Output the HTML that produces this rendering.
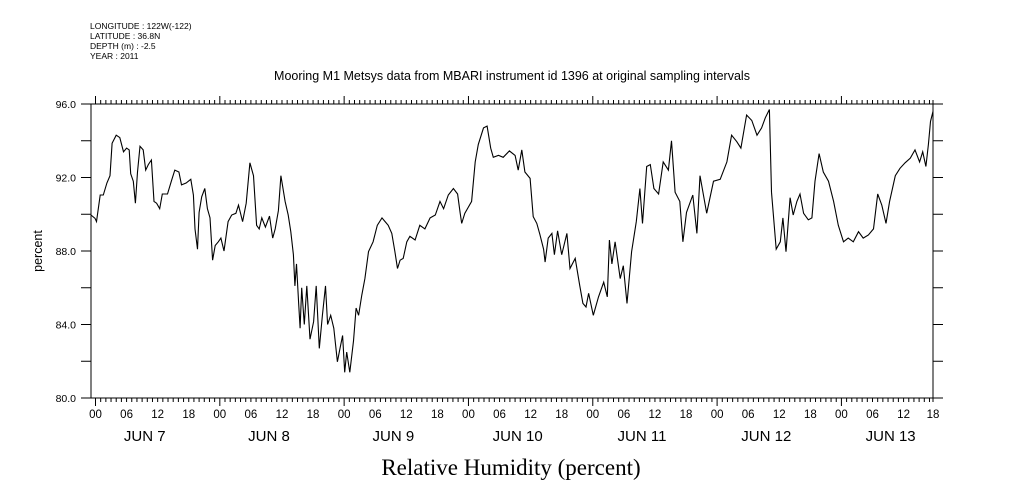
<!DOCTYPE html>
<html><head><meta charset="utf-8"><style>
body{margin:0;background:#fff;}
svg{display:block;font-family:"Liberation Sans",sans-serif;}
</style></head><body>
<svg id="chart" width="1009" height="504" viewBox="0 0 1009 504">
<g font-size="8.5" fill="#000">
<text x="90" y="29">LONGITUDE : 122W(-122)</text>
<text x="90" y="39">LATITUDE : 36.8N</text>
<text x="90" y="49">DEPTH (m) : -2.5</text>
<text x="90" y="59">YEAR : 2011</text>
</g>
<text x="512" y="80" text-anchor="middle" font-size="12.5">Mooring M1 Metsys data from MBARI instrument id 1396 at original sampling intervals</text>
<text transform="translate(42,251) rotate(-90)" text-anchor="middle" font-size="12.5">percent</text>
<text x="511" y="475" text-anchor="middle" font-size="23" font-family="Liberation Serif, serif">Relative Humidity (percent)</text>
<g id="axes"></g>
<g id="plot"></g>
</svg>
<script>
const hours=[-0.9,-0.1,0.2,0.9,1.5,2.2,2.8,3.2,4.0,4.7,5.4,6.0,6.5,6.8,7.3,7.7,8.1,8.6,9.2,9.7,10.2,10.8,11.3,11.8,12.4,12.9,13.9,14.7,15.3,16.1,16.6,17.5,18.4,18.9,19.2,19.7,20.0,20.5,21.1,21.6,22.1,22.6,23.1,23.7,24.2,24.8,25.6,26.3,27.1,27.6,28.4,29.1,29.8,30.5,31.1,31.6,32.1,32.8,33.6,34.2,34.7,35.3,35.8,36.6,37.2,37.7,38.2,38.5,38.8,39.2,39.5,39.8,40.3,40.8,41.4,42.1,42.6,43.2,43.8,44.4,44.8,45.4,46.0,46.7,47.2,47.7,48.1,48.5,49.1,49.8,50.3,50.8,51.4,52.0,52.7,53.6,54.4,55.3,55.9,56.5,57.2,57.8,58.3,58.8,59.4,60.1,60.7,61.7,62.6,63.6,64.6,65.6,66.5,67.2,68.1,69.1,69.9,70.4,70.7,71.3,72.0,72.6,73.3,73.9,74.9,75.6,76.3,76.8,77.8,78.7,79.9,81.0,81.6,82.3,82.9,83.9,84.5,85.2,85.8,86.5,86.8,87.4,88.1,88.6,89.2,90.0,91.0,91.6,92.6,93.5,94.1,94.7,95.2,96.1,97.1,98.1,98.8,99.2,99.7,100.3,101.3,101.9,102.6,103.5,104.4,105.1,105.6,106.4,107.1,107.8,108.7,109.6,110.6,111.2,111.9,112.8,113.4,114.1,115.3,116.1,116.7,118.0,119.3,120.6,121.9,122.8,123.8,124.6,125.7,126.7,127.7,128.6,129.3,130.1,130.5,131.4,132.2,132.7,133.3,134.1,134.7,135.4,136.0,136.7,137.6,138.3,138.9,139.7,140.5,141.5,142.5,143.4,144.4,145.3,146.3,147.3,148.2,149.2,150.2,151.0,151.8,152.6,153.3,154.4,155.3,156.3,157.3,158.2,159.1,159.7,160.3,160.8,161.2,161.7];
const humidity=[89.96,89.78,89.6,91.05,91.05,91.7,92.1,93.86,94.3,94.17,93.4,93.6,93.5,92.2,91.8,90.6,92.3,93.7,93.5,92.4,92.7,92.95,90.7,90.6,90.3,91.1,91.1,91.85,92.4,92.3,91.6,91.7,91.9,91.05,89.2,88.1,90.1,90.95,91.4,90.3,89.8,87.5,88.3,88.5,88.7,88.0,89.6,89.96,90.05,90.5,89.6,90.6,92.8,92.1,89.4,89.2,89.8,89.3,89.9,88.7,89.2,90.2,92.1,90.7,89.96,89.05,87.8,86.1,87.3,85.2,83.8,86.0,84.0,86.1,83.2,84.15,86.1,82.7,84.5,86.1,84.0,84.5,83.8,81.97,82.7,83.4,81.4,82.5,81.4,83.1,84.9,84.5,85.6,86.5,87.96,88.5,89.4,89.8,89.6,89.4,88.96,87.96,87.05,87.5,87.6,88.5,88.8,88.6,89.4,89.2,89.8,89.96,90.7,90.3,91.05,91.4,91.1,90.05,89.5,90.05,90.4,90.7,92.85,93.8,94.7,94.8,93.6,93.1,93.2,93.1,93.45,93.2,92.4,93.5,92.3,91.95,89.87,89.5,88.9,88.1,87.4,88.7,88.96,87.8,89.1,87.8,88.96,87.05,87.6,86.1,85.15,84.95,85.7,84.5,85.5,86.3,85.5,88.6,87.3,88.5,86.5,87.2,85.15,87.96,89.6,91.4,89.5,92.6,92.7,91.4,91.1,92.85,92.4,94.0,91.2,90.7,88.5,90.1,91.05,88.96,92.1,90.05,91.8,91.9,92.85,94.3,93.95,93.6,95.4,95.1,94.3,94.7,95.25,95.7,91.2,88.1,88.5,89.8,87.96,90.9,89.96,90.7,91.1,90.05,89.7,89.8,91.8,93.3,92.3,91.8,90.7,89.4,88.5,88.7,88.5,89.05,88.7,88.87,89.2,91.1,90.5,89.5,90.7,92.1,92.5,92.8,93.05,93.5,92.85,93.4,92.6,93.8,95.05,95.6];
const yTicks=[80,84,88,92,96];
const hourLabels=["00","06","12","18"];
const dayLabels=["JUN  7","JUN  8","JUN  9","JUN 10","JUN 11","JUN 12","JUN 13"];

const L=91,R=933,T=104,B=398,X0=95.5,PXH=5.18,YMIN=80,YMAX=96;
const xs=h=>X0+h*PXH;
const ys=v=>B-(v-YMIN)/(YMAX-YMIN)*(B-T);
const NS="http://www.w3.org/2000/svg";
const axes=document.getElementById('axes'),plot=document.getElementById('plot');
function mk(tag,attrs,parent){const e=document.createElementNS(NS,tag);for(const k in attrs)e.setAttribute(k,attrs[k]);parent.appendChild(e);return e;}
let fr=mk('rect',{x:L,y:T,width:R-L,height:B-T,fill:'none',stroke:'#000','stroke-width':1},axes);


for(let v=YMIN;v<=YMAX;v+=2){
  const y=ys(v);
  let t1=mk('line',{x1:L-10,y1:y,x2:L,y2:y,stroke:'#000'},axes);
  
  
  let t2=mk('line',{x1:R,y1:y,x2:R+10,y2:y,stroke:'#000'},axes);
  
  
}
yTicks.forEach(v=>{
  let t=mk('text',{x:76,y:ys(v)+4,'text-anchor':'end','font-size':'10.5'},axes);
  t.textContent=v.toFixed(1);
  
  
});
const nH=162;
for(let h=0;h<=nH;h++){
  const x=Math.min(xs(h),R),major=h%24===0;
  let a=mk('line',{x1:x,y1:T,x2:x,y2:T-(major?8:4),stroke:'#000'},axes);
  
  
  let b=mk('line',{x1:x,y1:B,x2:x,y2:B+(major?8:4),stroke:'#000'},axes);
  
  
  if(h%6===0){
    let t=mk('text',{x:x,y:418,'text-anchor':'middle','font-size':'11.5'},axes);
    t.textContent=hourLabels[(h/6)%4];
    
    
  }
}
dayLabels.forEach((d,i)=>{
  let t=mk('text',{x:xs(i*24+9.5),y:441,'text-anchor':'middle','font-size':'15','xml:space':'preserve'},axes);
  t.textContent=d;
  
  
});
let pts=hours.map((h,i)=>Math.max(L,Math.min(R,xs(h))).toFixed(1)+','+ys(humidity[i]).toFixed(1)).join(' ');
let line=mk('polyline',{points:pts,fill:'none',stroke:'#000','stroke-width':1.1},plot);


</script>
</body></html>
